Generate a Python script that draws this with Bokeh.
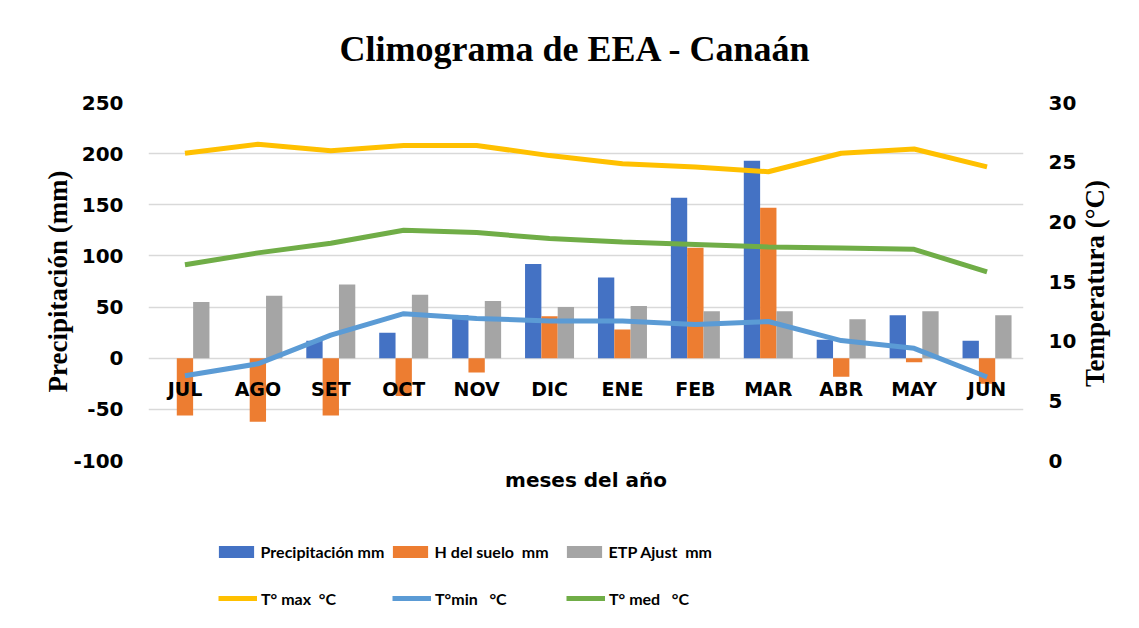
import math
from bokeh.plotting import figure
from bokeh.layouts import column, row
from bokeh.models import (Range1d, FactorRange, LinearAxis, SingleIntervalTicker,
                          Legend, LegendItem, Title, ColumnDataSource, Label,
                          NumeralTickFormatter)
from bokeh.transform import dodge
from bokeh.core.properties import value
from bokeh.embed import file_html
from bokeh.resources import INLINE

months = ["JUL", "AGO", "SET", "OCT", "NOV", "DIC", "ENE", "FEB", "MAR", "ABR", "MAY", "JUN"]
precip = [0, 0, 17, 25, 42, 92, 79, 157, 193, 18, 42, 17]
h_suelo = [-56, -62, -56, -37, -14, 41, 28, 108, 147, -18, -4, -25]
etp = [55, 61, 72, 62, 56, 50, 51, 46, 46, 38, 46, 42]
t_max = [25.75, 26.5, 25.95, 26.4, 26.4, 25.55, 24.86, 24.6, 24.2, 25.75, 26.1, 24.6]
t_min = [7.1, 8.1, 10.5, 12.3, 11.9, 11.7, 11.7, 11.4, 11.65, 10.05, 9.4, 7.0]
t_med = [16.4, 17.4, 18.2, 19.3, 19.1, 18.6, 18.3, 18.1, 17.9, 17.8, 17.7, 15.8]
axis_zero = [0] * len(months)

bar_labels = ["Precipitación mm", "H del suelo  mm", "ETP Ajust  mm"]
line_labels = ["T° max  °C", "T°min   °C", "T° med   °C"]
bar_colors = ["#4472C4", "#ED7D31", "#A5A5A5"]
line_colors = ["#FFC000", "#5B9BD5", "#70AD47"]

src = ColumnDataSource(dict(month=months, precip=precip, h_suelo=h_suelo, etp=etp,
                            t_max=t_max, t_min=t_min, t_med=t_med, zero=axis_zero))


def bare(fig):
    fig.outline_line_color = None
    fig.grid.visible = False
    fig.background_fill_color = "white"
    fig.border_fill_color = "white"


# ---------------- title strip ----------------
pt = figure(width=1139, height=80, x_axis_location=None, y_axis_location=None,
            output_backend="svg", toolbar_location=None, min_border=0)
bare(pt)
pt.add_layout(Label(x=575, y=32, x_units="screen", y_units="screen",
                    text="Climograma de EEA - Canaán", text_align="center",
                    text_baseline="middle", text_font="Liberation Serif",
                    text_font_style="bold", text_font_size="36px", text_color="black"))

# ---------------- main chart ----------------
p = figure(width=1080, height=420, x_range=FactorRange(*months),
           y_range=Range1d(-100, 250), x_axis_location=None,
           output_backend="svg", toolbar_location=None,
           min_border_left=148, min_border_right=57,
           min_border_top=22, min_border_bottom=40)
p.extra_y_ranges = {"temp": Range1d(0, 30)}
p.outline_line_color = None
p.background_fill_color = "white"
p.border_fill_color = "white"

bw = 0.224
bar_fields = ["precip", "h_suelo", "etp"]
bar_offsets = [-bw, 0, bw]
for f, off, c in zip(bar_fields, bar_offsets, bar_colors):
    p.vbar(x=dodge("month", off, range=p.x_range), top=f, width=bw, source=src,
           fill_color=c, line_color=None)

p.text(x="month", y="zero", text="month", source=src, text_align="center",
       text_baseline="middle", y_offset=31, text_font=value("DejaVu Sans"),
       text_font_style="bold", text_font_size="19px", text_color="black")

line_fields = ["t_max", "t_min", "t_med"]
for f, c in zip(line_fields, line_colors):
    p.line(x="month", y=f, source=src, y_range_name="temp", line_color=c, line_width=5)

ax = p.yaxis[0]
ax.ticker = SingleIntervalTicker(interval=50)
p.ygrid.ticker = ax.ticker
p.ygrid.grid_line_color = "#d9d9d9"
p.ygrid.grid_line_width = 1.5
p.xgrid.visible = False


def style_axis(a):
    a.axis_line_color = None
    a.major_tick_line_color = None
    a.minor_tick_line_color = None
    a.major_tick_out = 0
    a.major_tick_in = 0
    a.major_label_standoff = 21
    a.major_label_text_font = "DejaVu Sans"
    a.major_label_text_font_style = "bold"
    a.major_label_text_font_size = "20px"
    a.major_label_text_color = "black"
    a.axis_label_text_font = "Liberation Serif"
    a.axis_label_text_font_style = "bold"
    a.axis_label_text_font_size = "27px"
    a.axis_label_text_color = "black"
    a.formatter = NumeralTickFormatter(format="0")


style_axis(ax)
ax.axis_label = "Precipitación (mm)"
ax.axis_label_standoff = -3

ax2 = LinearAxis(y_range_name="temp", ticker=SingleIntervalTicker(interval=5))
style_axis(ax2)
p.add_layout(ax2, "right")

p.add_layout(Title(text="meses del año", align="center",
                   text_font="DejaVu Sans", text_font_style="bold",
                   text_font_size="20px", text_color="black", standoff=11), "below")

# ---------------- right axis title ----------------
pr = figure(width=59, height=420, x_axis_location=None, y_axis_location=None,
            output_backend="svg", toolbar_location=None, min_border=0)
bare(pr)
pr.add_layout(Label(x=14, y=177, x_units="screen", y_units="screen",
                    text="Temperatura (°C)", angle=math.pi / 2,
                    text_align="center", text_baseline="middle",
                    text_font="Liberation Serif", text_font_style="bold",
                    text_font_size="27px", text_color="black"))

# ---------------- legend strip ----------------
pl = figure(width=1139, height=128, x_range=FactorRange(*months),
            y_range=Range1d(-100, 250), x_axis_location=None, y_axis_location=None,
            output_backend="svg", toolbar_location=None, min_border=0)
bare(pl)
pl.extra_y_ranges = {"temp": Range1d(0, 30)}

bar_items = []
for f, off, c, lab in zip(bar_fields, bar_offsets, bar_colors, bar_labels):
    r = pl.vbar(x=dodge("month", off, range=pl.x_range), top=f, width=bw, source=src,
                fill_color=c, line_color=None, visible=False)
    bar_items.append(LegendItem(label=lab, renderers=[r]))
line_items = []
for f, c, lab in zip(line_fields, line_colors, line_labels):
    r = pl.line(x="month", y=f, source=src, y_range_name="temp", line_color=c,
                line_width=5, visible=False)
    line_items.append(LegendItem(label=lab, renderers=[r]))


def make_legend(items, loc, gw, gh, standoff, lw, sp):
    return Legend(items=items, location=loc, orientation="horizontal",
                  glyph_width=gw, glyph_height=gh, label_height=20,
                  label_standoff=standoff, label_width=lw,
                  padding=0, margin=0, spacing=sp, border_line_color=None,
                  background_fill_alpha=0, label_text_font="Lato",
                  label_text_font_style="bold", label_text_font_size="16px",
                  label_text_color="black")


pl.add_layout(make_legend(bar_items, (213.6, 67), 44, 15, 3, 125, 2))
pl.add_layout(make_legend(line_items, (218, 20), 39, 20, 4, 131, 0))

layout = column(pt, row(p, pr), pl)
open("out.html", "w").write(file_html(layout, INLINE))
